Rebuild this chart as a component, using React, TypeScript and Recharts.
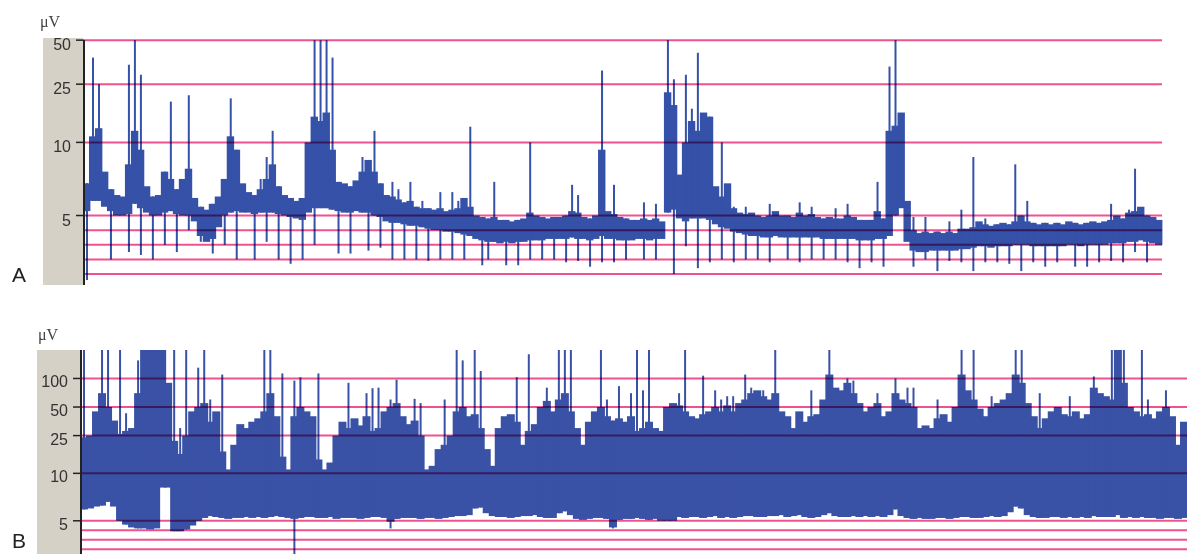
import React from 'react';
import { ComposedChart, Bar, XAxis, YAxis, ReferenceLine } from 'recharts';

// ---------- Panel A (µV), one value per time slot ----------
const A_LO = [
  5.3, 6, 6, 5.6, 5.3, 5, 5, 5.1, 5.8, 5.5,
  5.2, 5, 5, 5.2, 5.3, 5.1, 5, 5, 4.6, 3.6,
  3.2, 3.4, 4.2, 5, 5.2, 5.3, 5.2, 5.2, 5.1, 5.2,
  5.2, 5.2, 5.1, 5, 4.9, 4.8, 4.7, 5.2, 5.5, 5.5,
  5.5, 5.4, 5.3, 5.2, 5.2, 5.3, 5.2, 5.2, 5, 4.9,
  4.6, 4.5, 4.5, 4.4, 4.3, 4.3, 4.2, 4.1, 4, 4,
  3.9, 3.9, 3.8, 3.7, 3.6, 3.4, 3.3, 3.2, 3.2, 3.1,
  3.2, 3.1, 3.2, 3.2, 3.3, 3.3, 3.3, 3.4, 3.4, 3.4,
  3.4, 3.5, 3.4, 3.4, 3.3, 3.4, 3.6, 3.4, 3.4, 3.3,
  3.3, 3.3, 3.4, 3.4, 3.3, 3.4, 3.4, 5.2, 5.4, 4.8,
  4.6, 4.8, 4.8, 4.8, 4.7, 4.4, 4.2, 4.1, 3.9, 3.8,
  3.7, 3.6, 3.6, 3.5, 3.5, 3.6, 3.5, 3.5, 3.5, 3.5,
  3.5, 3.5, 3.5, 3.4, 3.4, 3.4, 3.4, 3.4, 3.4, 3.3,
  3.3, 3.3, 3.4, 3.4, 3.6, 5, 5.5, 3.2, 2.6, 2.5,
  2.5, 2.6, 2.6, 2.6, 2.6, 2.6, 2.7, 2.7, 2.8, 2.9,
  2.9, 2.8, 2.9, 2.9, 2.9, 3, 3, 3, 2.9, 2.9,
  2.9, 2.9, 2.9, 2.9, 3, 3, 2.9, 3, 3, 3,
  3, 3.1, 3.1, 3.1, 3.2, 3.2, 3.3, 3.2, 3.1, 3,
];
const A_HI = [
  7.2, 11, 12.5, 8, 6.8, 6.4, 6.3, 8.5, 12, 9.5,
  7, 6.3, 6.4, 8, 7.5, 6.8, 7.5, 8.2, 6.2, 5.6,
  5.4, 5.8, 6.3, 7.5, 11, 9.5, 7.2, 6.6, 6.4, 6.8,
  7.5, 8.5, 7, 6.4, 6.2, 6, 6.2, 10, 15, 14,
  16, 9.5, 7.3, 7.2, 7, 7.4, 8, 8.8, 8, 7.2,
  6.4, 6.3, 6.1, 5.9, 6, 5.6, 5.5, 5.5, 5.4, 5.5,
  5.3, 5.4, 5.5, 6.2, 5.6, 5, 4.9, 4.8, 4.9, 4.7,
  4.7, 4.6, 4.7, 4.8, 5.2, 5, 4.9, 4.8, 4.9, 4.9,
  5, 5.3, 5.2, 4.9, 4.8, 5, 9.5, 5.3, 5.1, 4.9,
  4.8, 4.7, 4.7, 4.8, 4.7, 4.8, 4.6, 22, 18, 7.8,
  10, 14, 12, 16, 15, 7, 6.3, 7.2, 5.5, 5.2,
  5.1, 5.2, 5, 4.9, 5, 5.3, 5, 5, 4.9, 5.2,
  5, 5.1, 4.9, 4.8, 4.9, 4.8, 4.8, 5, 4.9, 4.7,
  4.7, 4.7, 5.3, 4.8, 12, 13, 16, 6, 4, 3.8,
  3.9, 3.8, 3.9, 3.8, 3.9, 3.8, 4.1, 4.1, 4.2, 4.6,
  4.4, 4.3, 4.4, 4.5, 4.4, 4.6, 5, 4.6, 4.5, 4.4,
  4.5, 4.4, 4.5, 4.4, 4.6, 4.5, 4.4, 4.5, 4.6, 4.5,
  4.6, 4.7, 5, 4.8, 5.2, 5.3, 5.6, 5, 4.9, 4.7,
];
// [slot, peak µV]
const A_UP = [
  [1, 38], [2, 25], [7, 34], [8, 50], [9, 29], [14, 19], [17, 21], [24, 20], [29, 7.5], [30, 9],
  [31, 12], [38, 50], [39, 50], [40, 50], [41, 38], [46, 9], [48, 12], [51, 7.3], [52, 6.8], [54, 7.3],
  [56, 6], [59, 6.6], [61, 6.6], [62, 6], [64, 12.8], [68, 7.3], [74, 10], [81, 7.1], [82, 6.4], [86, 31],
  [88, 7.1], [93, 5.9], [95, 5.8], [97, 50], [98, 27], [100, 29], [101, 17], [102, 41], [106, 10], [108, 5.6],
  [110, 5.6], [114, 5.8], [119, 5.9], [121, 5.6], [125, 5.5], [127, 5.8], [132, 7.3], [134, 33], [135, 50], [138, 4.9],
  [140, 4.9], [144, 4.6], [146, 5.4], [148, 9], [150, 4.8], [155, 8.5], [157, 6], [171, 5.8], [174, 5.4], [175, 8.2],
];
// [slot, trough µV]
const A_DOWN = [
  [0, 0.6], [4, 2], [7, 2.5], [9, 2.3], [11, 2], [13, 3], [15, 2.5], [17, 4], [19, 3.2], [21, 2.4],
  [23, 3], [25, 2], [28, 2], [30, 3.2], [32, 2], [34, 1.7], [36, 2], [38, 3], [42, 2.4], [44, 2.4],
  [47, 2.6], [49, 2.8], [51, 2], [53, 2], [55, 2], [57, 1.9], [59, 2], [61, 2], [63, 2], [66, 1.6],
  [67, 2], [70, 1.6], [72, 1.6], [74, 2], [76, 2], [78, 2], [80, 1.8], [82, 1.9], [84, 1.5], [86, 1.8],
  [88, 1.8], [90, 2], [93, 2], [95, 2], [98, 1.0], [100, 2.9], [102, 1.4], [104, 1.8], [106, 2], [108, 1.8],
  [110, 2], [112, 2], [114, 1.8], [117, 2], [119, 1.8], [121, 2], [123, 2], [125, 2], [127, 1.8], [129, 1.4],
  [131, 1.8], [133, 1.5], [138, 1.5], [140, 2], [142, 1.2], [144, 1.9], [146, 1.8], [148, 1.2], [150, 1.8], [152, 1.8],
  [154, 1.7], [156, 1.2], [158, 1.8], [160, 1.5], [162, 1.8], [165, 1.5], [167, 1.5], [169, 1.8], [171, 1.9], [173, 1.8],
  [175, 2.5], [177, 1.8],
];
const A_TICKS = [5, 10, 25, 50];
const A_GRID = [1, 2, 3, 4, 5, 10, 25, 50];

// ---------- Panel B (µV) ----------
const B_LO = [
  6.2, 6.3, 6.5, 6.6, 7, 6.5, 5, 4.6, 4.3, 4.2,
  4.2, 4.1, 4.2, 8.5, 8.5, 3.9, 3.9, 4.1, 4.5, 5,
  5.3, 5.5, 5.4, 5.3, 5.2, 5.3, 5.3, 5.4, 5.3, 5.4,
  5.3, 5.4, 5.5, 5.4, 5.3, 5.2, 5.3, 5.4, 5.4, 5.3,
  5.3, 5.4, 5.2, 5.3, 5.3, 5.3, 5.2, 5.3, 5.4, 5.4,
  5.3, 4.9, 5.2, 5.3, 5.3, 5.3, 5.2, 5.3, 5.3, 5.2,
  5.3, 5.4, 5.5, 5.5, 5.6, 6.3, 6.4, 5.8, 5.5, 5.4,
  5.4, 5.3, 5.4, 5.5, 5.5, 5.6, 5.4, 5.3, 5.3, 5.8,
  6, 5.6, 5.2, 5.1, 5.2, 5.3, 5.3, 5.2, 4.3, 5.1,
  5.2, 5.2, 5.3, 5.2, 5.1, 5.2, 5, 5, 5, 5.4,
  5.3, 5.4, 5.4, 5.3, 5.4, 5.5, 5.3, 5.4, 5.3, 5.4,
  5.5, 5.5, 5.4, 5.4, 5.5, 5.5, 5.6, 5.4, 5.5, 5.6,
  5.4, 5.3, 5.4, 5.6, 5.8, 5.5, 5.4, 5.4, 5.5, 5.4,
  5.5, 5.4, 5.5, 5.4, 5.6, 6.2, 5.5, 5.3, 5.2, 5.3,
  5.2, 5.2, 5.3, 5.3, 5.2, 5.3, 5.4, 5.4, 5.3, 5.3,
  5.4, 5.5, 5.4, 5.5, 5.9, 6.5, 6.3, 5.6, 5.4, 5.3,
  5.3, 5.4, 5.4, 5.3, 5.4, 5.3, 5.4, 5.3, 5.5, 5.4,
  5.4, 5.4, 5.6, 5.3, 5.4, 5.3, 5.4, 5.3, 5.3, 5.2,
  5.3, 5.3, 5.2, 5.3,
];
const B_HI = [
  24, 25, 45, 70, 50, 36, 26, 28, 30, 70,
  200, 200, 200, 200, 90, 22, 16, 25, 45, 50,
  55, 35, 45, 17, 11, 20, 33, 30, 35, 38,
  45, 70, 40, 15, 11, 40, 50, 45, 40, 14,
  11, 13, 25, 35, 30, 38, 32, 40, 28, 30,
  45, 50, 55, 40, 33, 36, 25, 11, 12, 18,
  20, 25, 45, 50, 40, 42, 30, 18, 12, 30,
  40, 42, 35, 20, 28, 33, 50, 58, 45, 60,
  70, 45, 30, 20, 35, 45, 50, 40, 36, 38,
  35, 40, 28, 30, 35, 30, 28, 50, 55, 52,
  45, 40, 38, 42, 45, 50, 45, 52, 45, 55,
  60, 70, 75, 65, 60, 70, 45, 40, 30, 45,
  35, 40, 42, 60, 110, 80, 75, 90, 70, 55,
  45, 50, 55, 40, 45, 70, 60, 55, 50, 30,
  32, 30, 38, 42, 35, 50, 110, 75, 60, 48,
  40, 50, 55, 60, 70, 110, 90, 55, 40, 30,
  38, 45, 50, 42, 40, 45, 38, 42, 80, 70,
  65, 60, 200, 90, 50, 45, 40, 42, 38, 45,
  50, 40, 20, 35,
];
const B_UP = [
  [0, 200], [3, 200], [4, 200], [6, 200], [7, 43], [9, 155], [15, 200], [16, 30], [17, 200], [19, 130],
  [20, 200], [21, 60], [23, 110], [30, 200], [31, 200], [33, 113], [35, 95], [36, 103], [39, 113], [44, 90],
  [47, 70], [48, 79], [49, 80], [51, 60], [52, 97], [55, 61], [56, 55], [60, 60], [62, 200], [63, 155],
  [65, 200], [66, 120], [72, 103], [74, 180], [77, 80], [79, 200], [80, 200], [81, 200], [86, 200], [87, 60],
  [89, 83], [91, 70], [92, 200], [93, 75], [94, 200], [99, 70], [100, 200], [103, 107], [105, 75], [106, 60],
  [107, 65], [108, 65], [110, 110], [111, 80], [113, 75], [115, 200], [121, 75], [124, 200], [127, 100], [128, 95],
  [132, 70], [135, 100], [137, 80], [138, 80], [142, 60], [146, 200], [148, 200], [151, 65], [155, 200], [156, 200],
  [159, 70], [164, 65], [168, 105], [171, 200], [172, 200], [173, 200], [176, 200], [177, 60], [180, 75],
];
const B_DOWN = [[35, 1.5], [51, 4.2], [88, 4.2]];
const B_TICKS = [5, 10, 25, 50, 100];
const B_GRID = [2, 3, 4, 5, 10, 25, 50, 100];

// aEEG semi-logarithmic amplitude axis: linear 0-10 µV, logarithmic 10-100 µV
const toScale = (v: number) => (v <= 10 ? v : 10 + 10 * Math.log10(v / 10));

function buildRows(lo: number[], hi: number[], up: number[][], down: number[][]) {
  const upMap = new Map(up.map(([i, v]) => [i, v]));
  const downMap = new Map(down.map(([i, v]) => [i, v]));
  return lo.map((l, i) => {
    const u = upMap.get(i);
    const d = downMap.get(i);
    const hasSpike = u !== undefined || d !== undefined;
    return {
      i,
      band: [toScale(l), toScale(hi[i])],
      spike: hasSpike ? [toScale(d ?? l), toScale(u ?? hi[i])] : [toScale(l), toScale(l)],
    };
  });
}

const rowsA = buildRows(A_LO, A_HI, A_UP, A_DOWN);
const rowsB = buildRows(B_LO, B_HI, B_UP, B_DOWN);

const BLUE_A = '#3551a8';
const BLUE_B = '#3a52a6';
const PINK = '#ef5290';

// band bars are widened slightly so neighbouring slots join into one continuous trace
const BandShape = (p: any) => {
  const h = Math.abs(p.height || 0);
  const y = p.height < 0 ? p.y + p.height : p.y;
  if (!isFinite(p.x) || !isFinite(y)) return <g />;
  return <rect x={p.x - 1} y={y} width={p.width + 2} height={h} fill={p.fill} />;
};

const makeTick = (labels: number[], dyText: number) => (props: any) => {
  const { x, y, payload } = props;
  const idx = labels.findIndex((v) => Math.abs(toScale(v) - payload.value) < 1e-6);
  return (
    <text
      x={x}
      y={y + dyText}
      textAnchor="end"
      fontSize={16}
      fontFamily="Arial, 'Liberation Sans', sans-serif"
      fill="#333"
    >
      {idx >= 0 ? labels[idx] : ''}
    </text>
  );
};

function Panel(props: {
  rows: any[];
  width: number;
  height: number;
  margin: any;
  axisWidth: number;
  domain: [number, number];
  ticks: number[];
  grid: number[];
  color: string;
  dy: number;
}) {
  const { rows, width, height, margin, axisWidth, domain, ticks, grid, color, dy } = props;
  return (
    <ComposedChart width={width} height={height} data={rows} margin={margin} barCategoryGap={0} barGap={0}>
      <XAxis xAxisId="band" dataKey="i" hide />
      <XAxis xAxisId="spk" dataKey="i" hide />
      <YAxis
        type="number"
        domain={domain}
        allowDataOverflow
        ticks={ticks.map(toScale)}
        interval={0}
        tick={makeTick(ticks, dy)}
        tickSize={8}
        tickMargin={5}
        tickLine={{ stroke: '#222', strokeWidth: 1.5 }}
        axisLine={{ stroke: '#222', strokeWidth: 2 }}
        width={axisWidth}
      />
      <Bar xAxisId="band" dataKey="band" fill={color} barSize={6} shape={BandShape} isAnimationActive={false} />
      <Bar xAxisId="spk" dataKey="spike" fill={color} barSize={2} isAnimationActive={false} />
      {grid.map((v) => (
        <ReferenceLine key={v} xAxisId="band" y={toScale(v)} stroke={PINK} strokeWidth={2} />
      ))}
    </ComposedChart>
  );
}

export default function App() {
  return (
    <div style={{ position: 'absolute', left: 0, top: 0, width: 1187, height: 554, background: '#fff', overflow: 'hidden' }}>
      <style>{`.recharts-reference-line-line { mix-blend-mode: multiply; }`}</style>
      <svg width={1187} height={554} style={{ position: 'absolute', left: 0, top: 0 }}>
        <rect x={43} y={38} width={40} height={247} fill="#d5d1c7" />
        <rect x={37} y={350} width={43} height={204} fill="#d5d1c7" />
        <text x={40} y={27} fontSize={16} fontFamily="'Liberation Serif', 'Times New Roman', serif" fill="#444">μV</text>
        <text x={38} y={340} fontSize={16} fontFamily="'Liberation Serif', 'Times New Roman', serif" fill="#444">μV</text>
        <text x={12} y={282} fontSize={21} fontFamily="Arial, 'Liberation Sans', sans-serif" fill="#222">A</text>
        <text x={12} y={548} fontSize={21} fontFamily="Arial, 'Liberation Sans', sans-serif" fill="#222">B</text>
      </svg>
      <div style={{ position: 'absolute', left: 0, top: 0 }}>
        <Panel
          rows={rowsA}
          width={1187}
          height={300}
          margin={{ top: 40, right: 25, bottom: 15, left: 0 }}
          axisWidth={84}
          domain={[0.25, 17]}
          ticks={A_TICKS}
          grid={A_GRID}
          color={BLUE_A}
          dy={10}
        />
      </div>
      <div style={{ position: 'absolute', left: 0, top: 300 }}>
        <Panel
          rows={rowsB}
          width={1187}
          height={254}
          margin={{ top: 50, right: 0, bottom: 0, left: 0 }}
          axisWidth={81}
          domain={[1.5, 23]}
          ticks={B_TICKS}
          grid={B_GRID}
          color={BLUE_B}
          dy={9}
        />
      </div>
    </div>
  );
}
